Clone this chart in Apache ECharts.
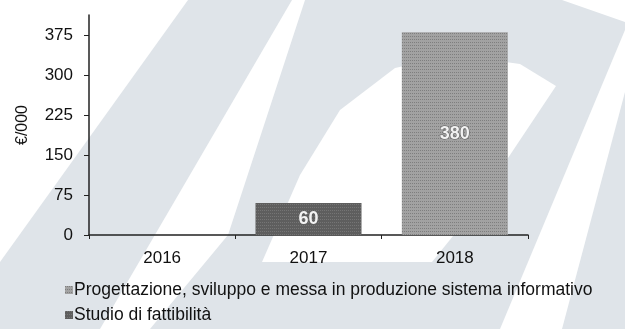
<!DOCTYPE html>
<html>
<head>
<meta charset="utf-8">
<script src="https://cdn.jsdelivr.net/npm/echarts@6/dist/echarts.min.js"></script>
<style>
  html, body { margin: 0; padding: 0; background: #ffffff; }
  #chart { width: 625px; height: 329px; }
</style>
</head>
<body>
<div id="chart"></div>
<script>
// Categories and values (€/000)
const years = ['2016', '2017', '2018'];
const progettazione = [null, null, 380];
const studio = [null, 60, null];
const yTicks = [0, 75, 150, 225, 300, 375];

const seriesNames = [
  'Progettazione, sviluppo e messa in produzione sistema informativo',
  'Studio di fattibilità'
];

const FONT = '"Liberation Sans", Arial, sans-serif';
const PALE = '#dfe4e9';

const chart = echarts.init(document.getElementById('chart'), null, { renderer: 'canvas' });

// Pale background shapes behind the plot
const backdrop = [
  { shape: { points: [[188, 0], [292, 0], [100, 329], [0, 329], [0, 262]] } },
  { shape: { points: [[305, 0], [562, 0], [625, 22], [625, 329], [150, 329], [228, 235]] } },
  { shape: { points: [[625, 30], [625, 92], [562, 329], [500, 329]] }, white: true },
  { shape: { points: [[262, 262], [300, 175], [340, 110], [395, 68], [455, 55], [520, 64], [556, 86], [470, 215], [432, 262]] }, white: true }
].map(g => ({
  type: 'polygon',
  shape: g.shape,
  silent: true,
  z: -10,
  style: { fill: g.white ? '#ffffff' : PALE }
}));

// Fine grain on the bars
const grain = (c) => ({
  symbol: 'rect',
  symbolSize: 1,
  dashArrayX: [1, 1],
  dashArrayY: [1, 2],
  rotation: 0,
  color: c
});

chart.setOption({
  backgroundColor: '#ffffff',
  animation: false,
  aria: { enabled: false },
  graphic: { elements: backdrop },
  grid: { left: 89, right: 97, top: 15, bottom: 94, containLabel: false },
  legend: {
    orient: 'vertical',
    left: 60,
    top: 276,
    itemGap: 7,
    itemWidth: 8,
    itemHeight: 8,
    icon: 'rect',
    textStyle: { fontFamily: FONT, fontSize: 17.5, color: '#111', padding: [0, 0, 0, -4] },
    data: seriesNames
  },
  xAxis: {
    type: 'category',
    data: years,
    axisLine: { lineStyle: { color: '#222', width: 1.5 } },
    axisTick: { show: true, length: 4, lineStyle: { color: '#222' } },
    axisLabel: { fontFamily: FONT, fontSize: 17, color: '#111', margin: 15 }
  },
  yAxis: {
    type: 'value',
    min: 0,
    max: 412.5,
    name: '€/000',
    nameLocation: 'middle',
    nameRotate: 90,
    nameGap: 58,
    nameTextStyle: { fontFamily: FONT, fontSize: 16, color: '#111' },
    splitLine: { show: false },
    axisLine: { show: true, lineStyle: { color: '#222', width: 1.5 } },
    axisTick: { show: true, length: 5, customValues: yTicks, lineStyle: { color: '#222' } },
    axisLabel: { fontFamily: FONT, fontSize: 17, color: '#111', margin: 16, customValues: yTicks }
  },
  series: [
    {
      name: seriesNames[0],
      type: 'bar',
      stack: 'total',
      barWidth: 106,
      data: progettazione,
      itemStyle: { color: '#a2a2a2', decal: grain('rgba(60,60,60,0.35)') },
      label: {
        show: true, position: 'inside', fontFamily: FONT, fontSize: 18, fontWeight: 'bold',
        color: '#f2f2f2', textBorderColor: '#555', textBorderWidth: 1
      }
    },
    {
      name: seriesNames[1],
      type: 'bar',
      stack: 'total',
      barWidth: 106,
      data: studio,
      itemStyle: { color: '#5e5e5e', decal: grain('rgba(160,160,160,0.35)') },
      label: {
        show: true, position: 'inside', fontFamily: FONT, fontSize: 18, fontWeight: 'bold',
        color: '#f2f2f2'
      }
    }
  ]
});
</script>
</body>
</html>
